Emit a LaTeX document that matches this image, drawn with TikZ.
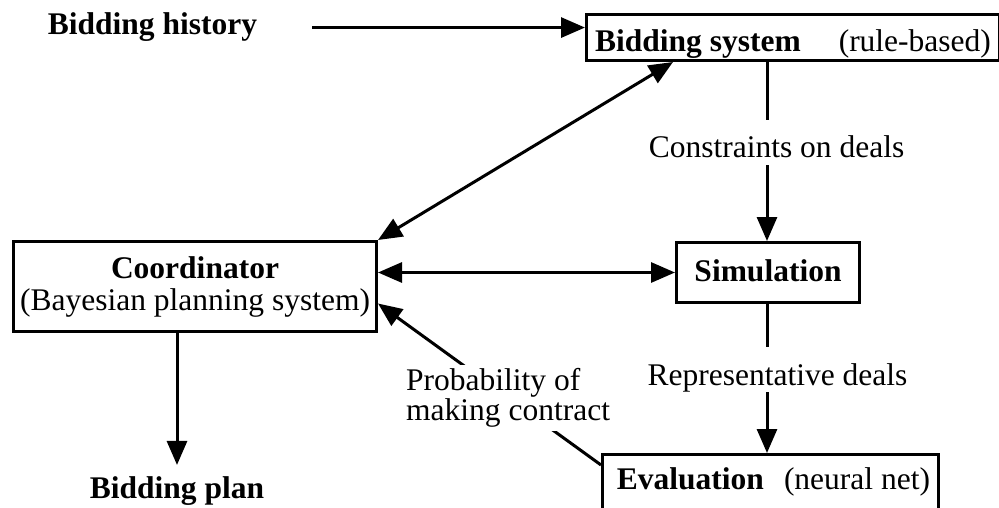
\documentclass[tikz,border=0pt]{standalone}
\usepackage{fontspec}
\setmainfont{Liberation Serif}
\usetikzlibrary{arrows.meta}
\begin{document}
\begin{tikzpicture}[x=1pt,y=-1pt,
  every node/.style={font=\fontsize{31.5}{32}\selectfont, inner sep=0pt},
  box/.style={draw, line width=3pt, anchor=north west},
  lbl/.style={fill=white},
  link/.style={line width=3pt},
  >={Triangle[length=24pt,width=20pt]}]
\useasboundingbox (0,0) rectangle (999,508);
\clip (0,0) rectangle (999,508);

% blocks of the bidding program
\node[anchor=base] (hist) at (152.5,35) {\textbf{Bidding history}};
\node[box, minimum width=413pt, text height=37pt, text depth=9pt] (bsys) at (585,13)
  {\textbf{Bidding system}\hspace{38pt}(rule-based)};
\node[box, minimum width=183pt, text height=39pt, text depth=21pt] (sim) at (675,241)
  {\textbf{Simulation}};
\node[box, minimum width=363pt, minimum height=90pt, align=center] (coord) at (12,240)
  {\textbf{Coordinator}\\(Bayesian planning system)};
\node[box, minimum width=336pt, text height=35pt, text depth=50pt] (eval) at (601,453)
  {\hspace*{6pt}\textbf{Evaluation}\hspace{20pt}(neural net)};
\node[anchor=base] (plan) at (177,498) {\textbf{Bidding plan}};

% x position of the vertical data flow
\coordinate (vx) at (767,0);

% connectors
\draw[link,->] ([xshift=55pt]hist.east) -- (hist.east -| bsys.west);
\draw[link,<->] (coord.north east) -- ([xshift=88pt]bsys.south west);
\draw[link,<->] (sim.west -| coord.east) -- (sim.west);
\draw[link,->] (bsys.south -| vx) -- (sim.north -| vx);
\draw[link,->] (sim.south -| vx) -- (eval.north -| vx);
\draw[link,->] (coord.south -| plan) -- ([yshift=11pt]plan.north);
\draw[link,->] ([yshift=-12pt]eval.north west) -- ([yshift=-17pt]coord.east);

% labels sitting on the connectors
\node[lbl, anchor=base, text height=38pt, text depth=7pt] (cons) at (776.5,158)
  {Constraints on deals};
\node[lbl, anchor=base, text height=38pt, text depth=7pt] (rep) at (777.5,385)
  {Representative deals};
\node[lbl, align=left, inner sep=4pt, anchor=west, font=\fontsize{31.5}{30}\selectfont]
  (prob) at (402,398) {Probability of\\making contract};
\end{tikzpicture}
\end{document}
